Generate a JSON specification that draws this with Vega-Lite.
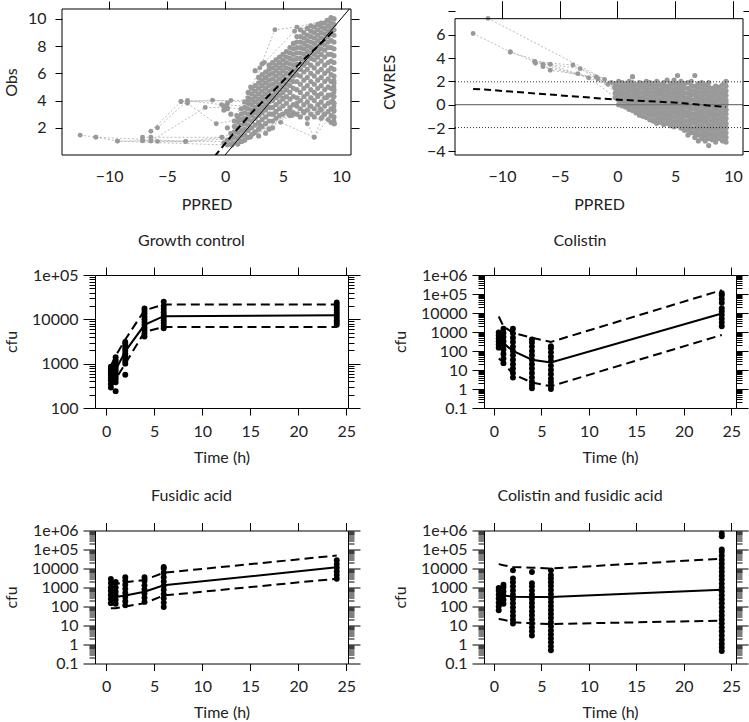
{
"$schema":"https://vega.github.io/schema/vega-lite/v6.json",
"padding":{"left":3,"top":0,"right":0,"bottom":0},
"config":{
 "font":"Lato",
 "view":{"stroke":"#000","strokeWidth":1},
 "axis":{"domain":false,"grid":false,"tickColor":"#000","tickWidth":1,"labelColor":"#222","titleColor":"#222","labelFontSize":16,"titleFontSize":16,"titleFontWeight":"normal","labelFlush":false,"labelOverlap":false,"labelBound":false},
 "title":{"fontSize":16,"fontWeight":"normal","color":"#222"}
},
"datasets":{
"c1":[
{"x":-0.1,"y":3.3},{"x":-0.1,"y":3.6},{"x":-0.1,"y":0.9},
{"x":0.2,"y":0.75},{"x":0.2,"y":1.1},{"x":0.2,"y":2.0},{"x":0.2,"y":3.4},{"x":0.2,"y":3.8},
{"x":0.5,"y":0.8},{"x":0.5,"y":1.2},{"x":0.5,"y":1.6},{"x":0.5,"y":3.0},
{"x":0.8,"y":0.9},{"x":0.8,"y":1.3},{"x":0.8,"y":1.7},{"x":0.8,"y":2.1},{"x":0.8,"y":2.5},
{"x":1.1,"y":0.8},{"x":1.1,"y":1.2},{"x":1.1,"y":1.6},{"x":1.1,"y":2.0},{"x":1.1,"y":2.4},{"x":1.1,"y":2.8},
{"x":1.4,"y":1.0},{"x":1.4,"y":1.4},{"x":1.4,"y":1.8},{"x":1.4,"y":2.2},{"x":1.4,"y":2.6},{"x":1.4,"y":3.0},{"x":1.4,"y":3.4},
{"x":1.7,"y":1.1},{"x":1.7,"y":1.5},{"x":1.7,"y":1.9},{"x":1.7,"y":2.3},{"x":1.7,"y":2.7},{"x":1.7,"y":3.1},{"x":1.7,"y":3.5},{"x":1.7,"y":3.9},
{"x":2.0,"y":1.3},{"x":2.0,"y":1.8},{"x":2.0,"y":2.2},{"x":2.0,"y":2.6},{"x":2.0,"y":3.0},{"x":2.0,"y":3.4},{"x":2.0,"y":3.8},{"x":2.0,"y":4.2},{"x":2.0,"y":4.6},
{"x":2.3,"y":1.5},{"x":2.3,"y":2.0},{"x":2.3,"y":2.5},{"x":2.3,"y":2.9},{"x":2.3,"y":3.3},{"x":2.3,"y":3.7},{"x":2.3,"y":4.1},{"x":2.3,"y":4.5},{"x":2.3,"y":4.9},
{"x":2.6,"y":1.7},{"x":2.6,"y":2.2},{"x":2.6,"y":2.7},{"x":2.6,"y":3.1},{"x":2.6,"y":3.5},{"x":2.6,"y":3.9},{"x":2.6,"y":4.3},{"x":2.6,"y":4.7},{"x":2.6,"y":5.1},{"x":2.6,"y":6.2},
{"x":2.9,"y":1.4},{"x":2.9,"y":1.9},{"x":2.9,"y":2.4},{"x":2.9,"y":2.9},{"x":2.9,"y":3.3},{"x":2.9,"y":3.7},{"x":2.9,"y":4.1},{"x":2.9,"y":4.5},{"x":2.9,"y":4.9},{"x":2.9,"y":5.3},{"x":2.9,"y":5.7},
{"x":3.2,"y":2.1},{"x":3.2,"y":2.6},{"x":3.2,"y":3.1},{"x":3.2,"y":3.5},{"x":3.2,"y":3.9},{"x":3.2,"y":4.3},{"x":3.2,"y":4.7},{"x":3.2,"y":5.1},{"x":3.2,"y":5.5},{"x":3.2,"y":5.9},{"x":3.2,"y":6.7},
{"x":3.5,"y":1.6},{"x":3.5,"y":2.3},{"x":3.5,"y":2.8},{"x":3.5,"y":3.3},{"x":3.5,"y":3.7},{"x":3.5,"y":4.1},{"x":3.5,"y":4.5},{"x":3.5,"y":4.9},{"x":3.5,"y":5.3},{"x":3.5,"y":5.7},{"x":3.5,"y":6.1},
{"x":3.8,"y":1.9},{"x":3.8,"y":2.5},{"x":3.8,"y":3.0},{"x":3.8,"y":3.5},{"x":3.8,"y":3.9},{"x":3.8,"y":4.3},{"x":3.8,"y":4.7},{"x":3.8,"y":5.1},{"x":3.8,"y":5.5},{"x":3.8,"y":5.9},{"x":3.8,"y":6.3},{"x":3.8,"y":6.6},
{"x":4.1,"y":2.0},{"x":4.1,"y":2.5},{"x":4.1,"y":3.0},{"x":4.1,"y":3.5},{"x":4.1,"y":4.0},{"x":4.1,"y":4.4},{"x":4.1,"y":4.8},{"x":4.1,"y":5.2},{"x":4.1,"y":5.6},{"x":4.1,"y":6.0},{"x":4.1,"y":6.4},{"x":4.1,"y":6.8},
{"x":4.4,"y":2.7},{"x":4.4,"y":3.2},{"x":4.4,"y":3.7},{"x":4.4,"y":4.2},{"x":4.4,"y":4.6},{"x":4.4,"y":5.0},{"x":4.4,"y":5.4},{"x":4.4,"y":5.8},{"x":4.4,"y":6.2},{"x":4.4,"y":6.6},{"x":4.4,"y":7.0},
{"x":4.7,"y":2.9},{"x":4.7,"y":3.4},{"x":4.7,"y":3.9},{"x":4.7,"y":4.4},{"x":4.7,"y":4.8},{"x":4.7,"y":5.2},{"x":4.7,"y":5.6},{"x":4.7,"y":6.0},{"x":4.7,"y":6.4},{"x":4.7,"y":6.8},{"x":4.7,"y":7.2},
{"x":5.0,"y":3.0},{"x":5.0,"y":3.6},{"x":5.0,"y":4.1},{"x":5.0,"y":4.6},{"x":5.0,"y":5.0},{"x":5.0,"y":5.4},{"x":5.0,"y":5.8},{"x":5.0,"y":6.2},{"x":5.0,"y":6.6},{"x":5.0,"y":7.0},{"x":5.0,"y":7.4},
{"x":5.3,"y":3.2},{"x":5.3,"y":3.8},{"x":5.3,"y":4.3},{"x":5.3,"y":4.8},{"x":5.3,"y":5.2},{"x":5.3,"y":5.6},{"x":5.3,"y":6.0},{"x":5.3,"y":6.4},{"x":5.3,"y":6.8},{"x":5.3,"y":7.2},{"x":5.3,"y":7.6},
{"x":5.6,"y":2.9},{"x":5.6,"y":3.5},{"x":5.6,"y":4.1},{"x":5.6,"y":4.6},{"x":5.6,"y":5.1},{"x":5.6,"y":5.5},{"x":5.6,"y":5.9},{"x":5.6,"y":6.3},{"x":5.6,"y":6.7},{"x":5.6,"y":7.1},{"x":5.6,"y":7.5},{"x":5.6,"y":7.9},
{"x":5.9,"y":3.1},{"x":5.9,"y":3.7},{"x":5.9,"y":4.3},{"x":5.9,"y":4.9},{"x":5.9,"y":5.4},{"x":5.9,"y":5.8},{"x":5.9,"y":6.2},{"x":5.9,"y":6.6},{"x":5.9,"y":7.0},{"x":5.9,"y":7.4},{"x":5.9,"y":7.8},{"x":5.9,"y":8.2},
{"x":6.2,"y":3.0},{"x":6.2,"y":3.6},{"x":6.2,"y":4.2},{"x":6.2,"y":4.8},{"x":6.2,"y":5.4},{"x":6.2,"y":5.9},{"x":6.2,"y":6.3},{"x":6.2,"y":6.7},{"x":6.2,"y":7.1},{"x":6.2,"y":7.5},{"x":6.2,"y":7.9},{"x":6.2,"y":8.3},{"x":6.2,"y":8.7},
{"x":6.5,"y":2.8},{"x":6.5,"y":3.4},{"x":6.5,"y":4.0},{"x":6.5,"y":4.6},{"x":6.5,"y":5.2},{"x":6.5,"y":5.8},{"x":6.5,"y":6.3},{"x":6.5,"y":6.7},{"x":6.5,"y":7.1},{"x":6.5,"y":7.5},{"x":6.5,"y":7.9},{"x":6.5,"y":8.3},{"x":6.5,"y":8.7},{"x":6.5,"y":9.2},
{"x":6.8,"y":3.1},{"x":6.8,"y":3.7},{"x":6.8,"y":4.3},{"x":6.8,"y":4.9},{"x":6.8,"y":5.5},{"x":6.8,"y":6.1},{"x":6.8,"y":6.6},{"x":6.8,"y":7.0},{"x":6.8,"y":7.4},{"x":6.8,"y":7.8},{"x":6.8,"y":8.2},{"x":6.8,"y":8.6},{"x":6.8,"y":9.0},
{"x":7.1,"y":2.7},{"x":7.1,"y":3.3},{"x":7.1,"y":3.9},{"x":7.1,"y":4.5},{"x":7.1,"y":5.1},{"x":7.1,"y":5.7},{"x":7.1,"y":6.3},{"x":7.1,"y":6.8},{"x":7.1,"y":7.2},{"x":7.1,"y":7.6},{"x":7.1,"y":8.0},{"x":7.1,"y":8.4},{"x":7.1,"y":8.8},{"x":7.1,"y":9.3},
{"x":7.4,"y":3.0},{"x":7.4,"y":3.6},{"x":7.4,"y":4.2},{"x":7.4,"y":4.8},{"x":7.4,"y":5.4},{"x":7.4,"y":6.0},{"x":7.4,"y":6.6},{"x":7.4,"y":7.1},{"x":7.4,"y":7.5},{"x":7.4,"y":7.9},{"x":7.4,"y":8.3},{"x":7.4,"y":8.7},{"x":7.4,"y":9.1},{"x":7.4,"y":9.5},
{"x":7.7,"y":2.8},{"x":7.7,"y":3.4},{"x":7.7,"y":4.0},{"x":7.7,"y":4.6},{"x":7.7,"y":5.2},{"x":7.7,"y":5.8},{"x":7.7,"y":6.4},{"x":7.7,"y":7.0},{"x":7.7,"y":7.4},{"x":7.7,"y":7.8},{"x":7.7,"y":8.2},{"x":7.7,"y":8.6},{"x":7.7,"y":9.0},{"x":7.7,"y":9.4},
{"x":8.0,"y":3.1},{"x":8.0,"y":3.7},{"x":8.0,"y":4.3},{"x":8.0,"y":4.9},{"x":8.0,"y":5.5},{"x":8.0,"y":6.1},{"x":8.0,"y":6.7},{"x":8.0,"y":7.2},{"x":8.0,"y":7.6},{"x":8.0,"y":8.0},{"x":8.0,"y":8.4},{"x":8.0,"y":8.8},{"x":8.0,"y":9.2},{"x":8.0,"y":9.6},
{"x":8.3,"y":2.7},{"x":8.3,"y":3.3},{"x":8.3,"y":3.9},{"x":8.3,"y":4.5},{"x":8.3,"y":5.1},{"x":8.3,"y":5.7},{"x":8.3,"y":6.3},{"x":8.3,"y":6.9},{"x":8.3,"y":7.4},{"x":8.3,"y":7.8},{"x":8.3,"y":8.2},{"x":8.3,"y":8.6},{"x":8.3,"y":9.0},{"x":8.3,"y":9.4},{"x":8.3,"y":9.7},
{"x":8.6,"y":3.0},{"x":8.6,"y":3.6},{"x":8.6,"y":4.2},{"x":8.6,"y":4.8},{"x":8.6,"y":5.4},{"x":8.6,"y":6.0},{"x":8.6,"y":6.6},{"x":8.6,"y":7.2},{"x":8.6,"y":7.7},{"x":8.6,"y":8.1},{"x":8.6,"y":8.5},{"x":8.6,"y":8.9},{"x":8.6,"y":9.3},{"x":8.6,"y":9.7},
{"x":8.9,"y":2.6},{"x":8.9,"y":3.2},{"x":8.9,"y":3.8},{"x":8.9,"y":4.4},{"x":8.9,"y":5.0},{"x":8.9,"y":5.6},{"x":8.9,"y":6.2},{"x":8.9,"y":6.8},{"x":8.9,"y":7.4},{"x":8.9,"y":7.9},{"x":8.9,"y":8.3},{"x":8.9,"y":8.7},{"x":8.9,"y":9.1},{"x":8.9,"y":9.5},{"x":8.9,"y":9.9},
{"x":9.15,"y":2.4},{"x":9.15,"y":2.9},{"x":9.15,"y":3.4},{"x":9.15,"y":3.9},{"x":9.15,"y":4.4},{"x":9.15,"y":4.9},{"x":9.15,"y":5.4},{"x":9.15,"y":5.9},{"x":9.15,"y":6.4},{"x":9.15,"y":6.9},{"x":9.15,"y":7.4},{"x":9.15,"y":7.9},{"x":9.15,"y":8.4},{"x":9.15,"y":8.9},{"x":9.15,"y":9.3},{"x":9.15,"y":9.7},{"x":9.15,"y":10.1},
{"x":9.4,"y":2.3},{"x":9.4,"y":2.8},{"x":9.4,"y":3.3},{"x":9.4,"y":3.8},{"x":9.4,"y":4.3},{"x":9.4,"y":4.8},{"x":9.4,"y":5.3},{"x":9.4,"y":5.8},{"x":9.4,"y":6.3},{"x":9.4,"y":6.8},{"x":9.4,"y":7.3},{"x":9.4,"y":7.8},{"x":9.4,"y":8.3},{"x":9.4,"y":8.8},{"x":9.4,"y":9.2},{"x":9.4,"y":9.6},{"x":9.4,"y":10.0}
],
"l1":[
{"i":"a","x":-12.5,"y":1.46},{"i":"a","x":-11.15,"y":1.31},{"i":"a","x":-9.28,"y":1.02},{"i":"a","x":0.6,"y":0.72},{"i":"a","x":2.5,"y":1.6},{"i":"a","x":5.8,"y":2.9},{"i":"a","x":9.4,"y":2.5},
{"i":"b","x":-11.15,"y":1.31},{"i":"b","x":-3.4,"y":1.0},{"i":"b","x":2.2,"y":1.3},{"i":"b","x":5.5,"y":3.0},{"i":"b","x":8.2,"y":3.4},{"i":"b","x":9.4,"y":3.6},
{"i":"c","x":-7.12,"y":1.05},{"i":"c","x":-5.83,"y":1.0},{"i":"c","x":1.5,"y":1.0},{"i":"c","x":4.8,"y":2.4},{"i":"c","x":7.7,"y":1.3},{"i":"c","x":9.4,"y":3.2},
{"i":"d","x":-7.12,"y":1.3},{"i":"d","x":-6.4,"y":1.3},{"i":"d","x":-0.27,"y":1.3},{"i":"d","x":3.0,"y":2.2},{"i":"d","x":6.8,"y":3.2},{"i":"d","x":9.3,"y":4.0},
{"i":"e","x":-6.4,"y":1.75},{"i":"e","x":-3.8,"y":3.93},{"i":"e","x":-1.08,"y":4.03},{"i":"e","x":2.0,"y":3.9},{"i":"e","x":5.0,"y":4.2},{"i":"e","x":8.0,"y":4.4},{"i":"e","x":9.4,"y":4.6},
{"i":"f","x":-5.83,"y":2.0},{"i":"f","x":-3.24,"y":4.0},{"i":"f","x":-0.3,"y":3.7},{"i":"f","x":3.5,"y":3.5},{"i":"f","x":6.2,"y":3.8},{"i":"f","x":9.4,"y":5.0},
{"i":"g","x":-6.4,"y":1.03},{"i":"g","x":-1.71,"y":3.49},{"i":"g","x":0.2,"y":3.5},{"i":"g","x":2.8,"y":3.2},{"i":"g","x":5.6,"y":3.3},{"i":"g","x":8.6,"y":3.0},{"i":"g","x":9.45,"y":2.3},
{"i":"h","x":-3.24,"y":3.8},{"i":"h","x":-0.76,"y":2.3},{"i":"h","x":1.2,"y":2.6},{"i":"h","x":4.2,"y":3.0},{"i":"h","x":7.3,"y":3.6},{"i":"h","x":9.4,"y":3.8},
{"i":"i","x":3.0,"y":6.4},{"i":"i","x":4.3,"y":9.2},{"i":"i","x":6.2,"y":9.4},{"i":"i","x":8.8,"y":9.9},
{"i":"j","x":1.0,"y":2.9},{"i":"j","x":2.2,"y":5.0},{"i":"j","x":3.4,"y":6.8},{"i":"j","x":6.0,"y":9.1},{"i":"j","x":9.4,"y":10.0},
{"i":"k","x":7.1,"y":2.3},{"i":"k","x":7.7,"y":1.3},{"i":"k","x":8.4,"y":2.8},{"i":"k","x":9.4,"y":5.5},
{"i":"l","x":-3.8,"y":3.93},{"i":"l","x":0.5,"y":4.0},{"i":"l","x":4.0,"y":4.1},{"i":"l","x":8.8,"y":4.2},
{"i":"m","x":-9.28,"y":1.02},{"i":"m","x":-7.12,"y":1.05},{"i":"m","x":-3.4,"y":1.0},{"i":"m","x":-0.27,"y":1.3}
],
"r1":[
{"k":"id","x":-1,"y":-1},{"k":"id","x":11,"y":11},
{"k":"lo","x":-0.9,"y":-0.1},{"k":"lo","x":0.65,"y":1.5},{"k":"lo","x":2.4,"y":3.2},{"k":"lo","x":4.4,"y":4.9},{"k":"lo","x":6.4,"y":6.7},{"k":"lo","x":8.7,"y":8.55},{"k":"lo","x":9.45,"y":9.2}
],
"b1":[{"x1":-14.07,"x2":10.87,"y1":0,"y2":10.73}],
"c2":[
{"x":-0.2,"y":0.6},{"x":-0.2,"y":1.0},{"x":-0.2,"y":1.4},{"x":-0.2,"y":1.8},
{"x":0.1,"y":0.0},{"x":0.1,"y":0.4},{"x":0.1,"y":0.8},{"x":0.1,"y":1.2},{"x":0.1,"y":1.6},{"x":0.1,"y":2.0},
{"x":0.4,"y":-0.1},{"x":0.4,"y":0.3},{"x":0.4,"y":0.7},{"x":0.4,"y":1.1},{"x":0.4,"y":1.5},{"x":0.4,"y":1.9},
{"x":0.7,"y":-0.2},{"x":0.7,"y":0.2},{"x":0.7,"y":0.6},{"x":0.7,"y":1.0},{"x":0.7,"y":1.4},{"x":0.7,"y":1.8},
{"x":1.0,"y":-0.4},{"x":1.0,"y":0.0},{"x":1.0,"y":0.4},{"x":1.0,"y":0.8},{"x":1.0,"y":1.2},{"x":1.0,"y":1.6},{"x":1.0,"y":2.0},
{"x":1.3,"y":-0.5},{"x":1.3,"y":-0.1},{"x":1.3,"y":0.3},{"x":1.3,"y":0.7},{"x":1.3,"y":1.1},{"x":1.3,"y":1.5},{"x":1.3,"y":1.9},{"x":1.3,"y":2.4},
{"x":1.6,"y":-0.7},{"x":1.6,"y":-0.3},{"x":1.6,"y":0.1},{"x":1.6,"y":0.5},{"x":1.6,"y":0.9},{"x":1.6,"y":1.3},{"x":1.6,"y":1.7},
{"x":1.9,"y":-0.9},{"x":1.9,"y":-0.5},{"x":1.9,"y":-0.1},{"x":1.9,"y":0.3},{"x":1.9,"y":0.7},{"x":1.9,"y":1.1},{"x":1.9,"y":1.5},{"x":1.9,"y":1.9},
{"x":2.2,"y":-1.0},{"x":2.2,"y":-0.6},{"x":2.2,"y":-0.2},{"x":2.2,"y":0.2},{"x":2.2,"y":0.6},{"x":2.2,"y":1.0},{"x":2.2,"y":1.4},{"x":2.2,"y":1.8},
{"x":2.5,"y":-1.1},{"x":2.5,"y":-0.7},{"x":2.5,"y":-0.3},{"x":2.5,"y":0.1},{"x":2.5,"y":0.5},{"x":2.5,"y":0.9},{"x":2.5,"y":1.3},{"x":2.5,"y":1.7},{"x":2.5,"y":2.0},
{"x":2.8,"y":-1.3},{"x":2.8,"y":-0.9},{"x":2.8,"y":-0.5},{"x":2.8,"y":-0.1},{"x":2.8,"y":0.3},{"x":2.8,"y":0.7},{"x":2.8,"y":1.1},{"x":2.8,"y":1.5},{"x":2.8,"y":1.9},
{"x":3.1,"y":-1.4},{"x":3.1,"y":-1.0},{"x":3.1,"y":-0.6},{"x":3.1,"y":-0.2},{"x":3.1,"y":0.2},{"x":3.1,"y":0.6},{"x":3.1,"y":1.0},{"x":3.1,"y":1.4},{"x":3.1,"y":1.8},
{"x":3.4,"y":-1.6},{"x":3.4,"y":-1.2},{"x":3.4,"y":-0.8},{"x":3.4,"y":-0.4},{"x":3.4,"y":0.0},{"x":3.4,"y":0.4},{"x":3.4,"y":0.8},{"x":3.4,"y":1.2},{"x":3.4,"y":1.6},{"x":3.4,"y":2.0},
{"x":3.7,"y":-1.5},{"x":3.7,"y":-1.1},{"x":3.7,"y":-0.7},{"x":3.7,"y":-0.3},{"x":3.7,"y":0.1},{"x":3.7,"y":0.5},{"x":3.7,"y":0.9},{"x":3.7,"y":1.3},{"x":3.7,"y":1.7},
{"x":4.0,"y":-1.7},{"x":4.0,"y":-1.3},{"x":4.0,"y":-0.9},{"x":4.0,"y":-0.5},{"x":4.0,"y":-0.1},{"x":4.0,"y":0.3},{"x":4.0,"y":0.7},{"x":4.0,"y":1.1},{"x":4.0,"y":1.5},{"x":4.0,"y":1.9},
{"x":4.3,"y":-1.6},{"x":4.3,"y":-1.2},{"x":4.3,"y":-0.8},{"x":4.3,"y":-0.4},{"x":4.3,"y":0.0},{"x":4.3,"y":0.4},{"x":4.3,"y":0.8},{"x":4.3,"y":1.2},{"x":4.3,"y":1.6},{"x":4.3,"y":2.1},
{"x":4.6,"y":-1.8},{"x":4.6,"y":-1.4},{"x":4.6,"y":-1.0},{"x":4.6,"y":-0.6},{"x":4.6,"y":-0.2},{"x":4.6,"y":0.2},{"x":4.6,"y":0.6},{"x":4.6,"y":1.0},{"x":4.6,"y":1.4},{"x":4.6,"y":1.8},
{"x":4.9,"y":-1.9},{"x":4.9,"y":-1.5},{"x":4.9,"y":-1.1},{"x":4.9,"y":-0.7},{"x":4.9,"y":-0.3},{"x":4.9,"y":0.1},{"x":4.9,"y":0.5},{"x":4.9,"y":0.9},{"x":4.9,"y":1.3},{"x":4.9,"y":1.7},{"x":4.9,"y":2.1},
{"x":5.2,"y":-1.8},{"x":5.2,"y":-1.4},{"x":5.2,"y":-1.0},{"x":5.2,"y":-0.6},{"x":5.2,"y":-0.2},{"x":5.2,"y":0.2},{"x":5.2,"y":0.6},{"x":5.2,"y":1.0},{"x":5.2,"y":1.4},{"x":5.2,"y":1.8},{"x":5.2,"y":2.5},
{"x":5.5,"y":-2.0},{"x":5.5,"y":-1.6},{"x":5.5,"y":-1.2},{"x":5.5,"y":-0.8},{"x":5.5,"y":-0.4},{"x":5.5,"y":0.0},{"x":5.5,"y":0.4},{"x":5.5,"y":0.8},{"x":5.5,"y":1.2},{"x":5.5,"y":1.6},{"x":5.5,"y":2.0},
{"x":5.8,"y":-2.2},{"x":5.8,"y":-1.8},{"x":5.8,"y":-1.4},{"x":5.8,"y":-1.0},{"x":5.8,"y":-0.6},{"x":5.8,"y":-0.2},{"x":5.8,"y":0.2},{"x":5.8,"y":0.6},{"x":5.8,"y":1.0},{"x":5.8,"y":1.4},{"x":5.8,"y":1.8},
{"x":6.1,"y":-2.6},{"x":6.1,"y":-2.2},{"x":6.1,"y":-1.8},{"x":6.1,"y":-1.4},{"x":6.1,"y":-1.0},{"x":6.1,"y":-0.6},{"x":6.1,"y":-0.2},{"x":6.1,"y":0.2},{"x":6.1,"y":0.6},{"x":6.1,"y":1.0},{"x":6.1,"y":1.4},{"x":6.1,"y":1.9},
{"x":6.4,"y":-2.4},{"x":6.4,"y":-2.0},{"x":6.4,"y":-1.6},{"x":6.4,"y":-1.2},{"x":6.4,"y":-0.8},{"x":6.4,"y":-0.4},{"x":6.4,"y":0.0},{"x":6.4,"y":0.4},{"x":6.4,"y":0.8},{"x":6.4,"y":1.2},{"x":6.4,"y":1.6},{"x":6.4,"y":2.0},
{"x":6.7,"y":-2.8},{"x":6.7,"y":-2.4},{"x":6.7,"y":-2.0},{"x":6.7,"y":-1.6},{"x":6.7,"y":-1.2},{"x":6.7,"y":-0.8},{"x":6.7,"y":-0.4},{"x":6.7,"y":0.0},{"x":6.7,"y":0.4},{"x":6.7,"y":0.8},{"x":6.7,"y":1.2},{"x":6.7,"y":1.6},{"x":6.7,"y":2.5},
{"x":7.0,"y":-3.1},{"x":7.0,"y":-2.6},{"x":7.0,"y":-2.2},{"x":7.0,"y":-1.8},{"x":7.0,"y":-1.4},{"x":7.0,"y":-1.0},{"x":7.0,"y":-0.6},{"x":7.0,"y":-0.2},{"x":7.0,"y":0.2},{"x":7.0,"y":0.6},{"x":7.0,"y":1.0},{"x":7.0,"y":1.4},{"x":7.0,"y":1.8},
{"x":7.3,"y":-2.9},{"x":7.3,"y":-2.5},{"x":7.3,"y":-2.1},{"x":7.3,"y":-1.7},{"x":7.3,"y":-1.3},{"x":7.3,"y":-0.9},{"x":7.3,"y":-0.5},{"x":7.3,"y":-0.1},{"x":7.3,"y":0.3},{"x":7.3,"y":0.7},{"x":7.3,"y":1.1},{"x":7.3,"y":1.5},{"x":7.3,"y":1.9},
{"x":7.6,"y":-3.1},{"x":7.6,"y":-2.7},{"x":7.6,"y":-2.3},{"x":7.6,"y":-1.9},{"x":7.6,"y":-1.5},{"x":7.6,"y":-1.1},{"x":7.6,"y":-0.7},{"x":7.6,"y":-0.3},{"x":7.6,"y":0.1},{"x":7.6,"y":0.5},{"x":7.6,"y":0.9},{"x":7.6,"y":1.3},{"x":7.6,"y":1.7},
{"x":7.9,"y":-3.5},{"x":7.9,"y":-2.9},{"x":7.9,"y":-2.5},{"x":7.9,"y":-2.1},{"x":7.9,"y":-1.7},{"x":7.9,"y":-1.3},{"x":7.9,"y":-0.9},{"x":7.9,"y":-0.5},{"x":7.9,"y":-0.1},{"x":7.9,"y":0.3},{"x":7.9,"y":0.7},{"x":7.9,"y":1.1},{"x":7.9,"y":1.5},{"x":7.9,"y":1.9},
{"x":8.2,"y":-3.0},{"x":8.2,"y":-2.6},{"x":8.2,"y":-2.2},{"x":8.2,"y":-1.8},{"x":8.2,"y":-1.4},{"x":8.2,"y":-1.0},{"x":8.2,"y":-0.6},{"x":8.2,"y":-0.2},{"x":8.2,"y":0.2},{"x":8.2,"y":0.6},{"x":8.2,"y":1.0},{"x":8.2,"y":1.4},
{"x":8.5,"y":-3.2},{"x":8.5,"y":-2.8},{"x":8.5,"y":-2.4},{"x":8.5,"y":-2.0},{"x":8.5,"y":-1.6},{"x":8.5,"y":-1.2},{"x":8.5,"y":-0.8},{"x":8.5,"y":-0.4},{"x":8.5,"y":0.0},{"x":8.5,"y":0.4},{"x":8.5,"y":0.8},{"x":8.5,"y":1.2},{"x":8.5,"y":1.6},
{"x":8.8,"y":-2.9},{"x":8.8,"y":-2.5},{"x":8.8,"y":-2.1},{"x":8.8,"y":-1.7},{"x":8.8,"y":-1.3},{"x":8.8,"y":-0.9},{"x":8.8,"y":-0.5},{"x":8.8,"y":-0.1},{"x":8.8,"y":0.3},{"x":8.8,"y":0.7},{"x":8.8,"y":1.1},{"x":8.8,"y":1.5},
{"x":9.1,"y":-3.1},{"x":9.1,"y":-2.7},{"x":9.1,"y":-2.3},{"x":9.1,"y":-1.9},{"x":9.1,"y":-1.5},{"x":9.1,"y":-1.1},{"x":9.1,"y":-0.7},{"x":9.1,"y":-0.3},{"x":9.1,"y":0.1},{"x":9.1,"y":0.5},{"x":9.1,"y":0.9},{"x":9.1,"y":1.3},{"x":9.1,"y":1.7},
{"x":9.4,"y":-3.2},{"x":9.4,"y":-2.8},{"x":9.4,"y":-2.4},{"x":9.4,"y":-2.0},{"x":9.4,"y":-1.6},{"x":9.4,"y":-1.2},{"x":9.4,"y":-0.8},{"x":9.4,"y":-0.4},{"x":9.4,"y":0.0},{"x":9.4,"y":0.4},{"x":9.4,"y":0.8},{"x":9.4,"y":1.2},{"x":9.4,"y":1.6},{"x":9.4,"y":2.0}
],
"l2":[
{"i":"q1","x":-11.21,"y":7.4},{"i":"q1","x":-0.54,"y":1.9},{"i":"q1","x":2.0,"y":0.5},{"i":"q1","x":5.0,"y":-0.5},{"i":"q1","x":9.2,"y":-1.0},
{"i":"q2","x":-12.5,"y":6.1},{"i":"q2","x":-9.28,"y":4.52},{"i":"q2","x":-3.43,"y":2.66},{"i":"q2","x":-0.25,"y":1.47},{"i":"q2","x":3.0,"y":0.3},{"i":"q2","x":7.0,"y":-1.2},{"i":"q2","x":9.4,"y":-0.5},
{"i":"q3","x":-7.17,"y":3.69},{"i":"q3","x":-3.86,"y":3.4},{"i":"q3","x":-1.12,"y":2.17},{"i":"q3","x":1.0,"y":0.8},{"i":"q3","x":4.5,"y":0.2},{"i":"q3","x":9.3,"y":0.6},
{"i":"q4","x":-7.1,"y":3.55},{"i":"q4","x":-5.82,"y":3.46},{"i":"q4","x":-3.23,"y":3.09},{"i":"q4","x":-0.83,"y":1.75},{"i":"q4","x":2.5,"y":1.0},{"i":"q4","x":6.0,"y":-0.8},{"i":"q4","x":9.4,"y":-1.8},
{"i":"q5","x":-6.45,"y":3.46},{"i":"q5","x":-5.82,"y":2.95},{"i":"q5","x":-1.84,"y":2.37},{"i":"q5","x":0.3,"y":1.0},{"i":"q5","x":3.5,"y":-0.5},{"i":"q5","x":8.0,"y":-2.0},
{"i":"q6","x":-6.45,"y":3.26},{"i":"q6","x":-1.7,"y":2.2},{"i":"q6","x":0.5,"y":0.6},{"i":"q6","x":5.0,"y":0.8},{"i":"q6","x":9.0,"y":1.2},
{"i":"q7","x":-9.28,"y":4.52},{"i":"q7","x":-7.17,"y":3.69},{"i":"q7","x":-2.5,"y":2.3},{"i":"q7","x":0.0,"y":0.5},{"i":"q7","x":4.0,"y":0.0},{"i":"q7","x":9.4,"y":0.2}
],
"r2":[
{"k":"lo","x":-12.5,"y":1.35},{"k":"lo","x":-11.8,"y":1.32},{"k":"lo","x":-2.3,"y":0.6},{"k":"lo","x":-0.5,"y":0.46},{"k":"lo","x":2.3,"y":0.32},{"k":"lo","x":5.2,"y":0.17},{"k":"lo","x":9.4,"y":-0.2},
{"k":"z","x":-14.07,"y":0},{"k":"z","x":10.87,"y":0},
{"k":"u","x":-14.07,"y":1.96},{"k":"u","x":10.87,"y":1.96},
{"k":"d","x":-14.07,"y":-1.96},{"k":"d","x":10.87,"y":-1.96}
],
"b2":[{"x1":-14.07,"x2":10.87,"y1":-4.31,"y2":7.37}],
"v":[
{"p":"gc","t":0.5,"v":290},{"p":"gc","t":0.5,"v":350},{"p":"gc","t":0.5,"v":420},{"p":"gc","t":0.5,"v":480},{"p":"gc","t":0.5,"v":540},{"p":"gc","t":0.5,"v":600},{"p":"gc","t":0.5,"v":680},{"p":"gc","t":0.5,"v":760},{"p":"gc","t":0.5,"v":850},
{"p":"gc","t":1,"v":240},{"p":"gc","t":1,"v":380},{"p":"gc","t":1,"v":450},{"p":"gc","t":1,"v":520},{"p":"gc","t":1,"v":600},{"p":"gc","t":1,"v":700},{"p":"gc","t":1,"v":800},{"p":"gc","t":1,"v":920},{"p":"gc","t":1,"v":1050},{"p":"gc","t":1,"v":1200},{"p":"gc","t":1,"v":1400},
{"p":"gc","t":2,"v":560},{"p":"gc","t":2,"v":1000},{"p":"gc","t":2,"v":1150},{"p":"gc","t":2,"v":1300},{"p":"gc","t":2,"v":1500},{"p":"gc","t":2,"v":1700},{"p":"gc","t":2,"v":1950},{"p":"gc","t":2,"v":2200},{"p":"gc","t":2,"v":2500},{"p":"gc","t":2,"v":2800},{"p":"gc","t":2,"v":3100},
{"p":"gc","t":4,"v":4100},{"p":"gc","t":4,"v":4800},{"p":"gc","t":4,"v":5600},{"p":"gc","t":4,"v":6500},{"p":"gc","t":4,"v":7500},{"p":"gc","t":4,"v":8700},{"p":"gc","t":4,"v":10000},{"p":"gc","t":4,"v":11500},{"p":"gc","t":4,"v":13500},{"p":"gc","t":4,"v":15500},{"p":"gc","t":4,"v":17500},
{"p":"gc","t":6,"v":6300},{"p":"gc","t":6,"v":7200},{"p":"gc","t":6,"v":8300},{"p":"gc","t":6,"v":9500},{"p":"gc","t":6,"v":11000},{"p":"gc","t":6,"v":12500},{"p":"gc","t":6,"v":14500},{"p":"gc","t":6,"v":17000},{"p":"gc","t":6,"v":20000},{"p":"gc","t":6,"v":25000},
{"p":"gc","t":24,"v":7500},{"p":"gc","t":24,"v":8500},{"p":"gc","t":24,"v":9500},{"p":"gc","t":24,"v":11000},{"p":"gc","t":24,"v":12500},{"p":"gc","t":24,"v":14000},{"p":"gc","t":24,"v":16000},{"p":"gc","t":24,"v":18500},{"p":"gc","t":24,"v":21000},{"p":"gc","t":24,"v":24000},
{"p":"co","t":0.5,"v":150},{"p":"co","t":0.5,"v":220},{"p":"co","t":0.5,"v":320},{"p":"co","t":0.5,"v":450},{"p":"co","t":0.5,"v":650},{"p":"co","t":0.5,"v":950},
{"p":"co","t":1,"v":23},{"p":"co","t":1,"v":40},{"p":"co","t":1,"v":70},{"p":"co","t":1,"v":120},{"p":"co","t":1,"v":200},{"p":"co","t":1,"v":330},{"p":"co","t":1,"v":550},{"p":"co","t":1,"v":900},{"p":"co","t":1,"v":1500},
{"p":"co","t":2,"v":4},{"p":"co","t":2,"v":7},{"p":"co","t":2,"v":12},{"p":"co","t":2,"v":20},{"p":"co","t":2,"v":35},{"p":"co","t":2,"v":60},{"p":"co","t":2,"v":100},{"p":"co","t":2,"v":170},{"p":"co","t":2,"v":300},{"p":"co","t":2,"v":500},{"p":"co","t":2,"v":850},{"p":"co","t":2,"v":1500},
{"p":"co","t":4,"v":1.1},{"p":"co","t":4,"v":1.6},{"p":"co","t":4,"v":2.4},{"p":"co","t":4,"v":4},{"p":"co","t":4,"v":7},{"p":"co","t":4,"v":12},{"p":"co","t":4,"v":20},{"p":"co","t":4,"v":35},{"p":"co","t":4,"v":60},{"p":"co","t":4,"v":100},{"p":"co","t":4,"v":170},{"p":"co","t":4,"v":280},{"p":"co","t":4,"v":400},
{"p":"co","t":6,"v":1.0},{"p":"co","t":6,"v":1.5},{"p":"co","t":6,"v":2.3},{"p":"co","t":6,"v":3.5},{"p":"co","t":6,"v":6},{"p":"co","t":6,"v":10},{"p":"co","t":6,"v":17},{"p":"co","t":6,"v":30},{"p":"co","t":6,"v":50},{"p":"co","t":6,"v":85},{"p":"co","t":6,"v":140},{"p":"co","t":6,"v":180},
{"p":"co","t":24,"v":2000},{"p":"co","t":24,"v":3200},{"p":"co","t":24,"v":5000},{"p":"co","t":24,"v":8000},{"p":"co","t":24,"v":12000},{"p":"co","t":24,"v":18000},{"p":"co","t":24,"v":35000},{"p":"co","t":24,"v":55000},{"p":"co","t":24,"v":85000},{"p":"co","t":24,"v":110000},
{"p":"fa","t":0.5,"v":150},{"p":"fa","t":0.5,"v":250},{"p":"fa","t":0.5,"v":400},{"p":"fa","t":0.5,"v":650},{"p":"fa","t":0.5,"v":1000},{"p":"fa","t":0.5,"v":1700},{"p":"fa","t":0.5,"v":2800},
{"p":"fa","t":1,"v":140},{"p":"fa","t":1,"v":230},{"p":"fa","t":1,"v":380},{"p":"fa","t":1,"v":600},{"p":"fa","t":1,"v":1000},{"p":"fa","t":1,"v":1950},
{"p":"fa","t":2,"v":115},{"p":"fa","t":2,"v":190},{"p":"fa","t":2,"v":320},{"p":"fa","t":2,"v":520},{"p":"fa","t":2,"v":850},{"p":"fa","t":2,"v":1400},{"p":"fa","t":2,"v":2300},{"p":"fa","t":2,"v":3500},
{"p":"fa","t":4,"v":175},{"p":"fa","t":4,"v":290},{"p":"fa","t":4,"v":480},{"p":"fa","t":4,"v":800},{"p":"fa","t":4,"v":1300},{"p":"fa","t":4,"v":2200},{"p":"fa","t":4,"v":3500},
{"p":"fa","t":6,"v":95},{"p":"fa","t":6,"v":160},{"p":"fa","t":6,"v":270},{"p":"fa","t":6,"v":450},{"p":"fa","t":6,"v":750},{"p":"fa","t":6,"v":1250},{"p":"fa","t":6,"v":2100},{"p":"fa","t":6,"v":3500},{"p":"fa","t":6,"v":6000},{"p":"fa","t":6,"v":10000},{"p":"fa","t":6,"v":12000},
{"p":"fa","t":24,"v":2900},{"p":"fa","t":24,"v":4500},{"p":"fa","t":24,"v":7000},{"p":"fa","t":24,"v":11000},{"p":"fa","t":24,"v":17000},{"p":"fa","t":24,"v":27000},
{"p":"cf","t":0.5,"v":63},{"p":"cf","t":0.5,"v":100},{"p":"cf","t":0.5,"v":160},{"p":"cf","t":0.5,"v":260},{"p":"cf","t":0.5,"v":420},{"p":"cf","t":0.5,"v":680},{"p":"cf","t":0.5,"v":950},
{"p":"cf","t":1,"v":140},{"p":"cf","t":1,"v":230},{"p":"cf","t":1,"v":380},{"p":"cf","t":1,"v":620},{"p":"cf","t":1,"v":1000},{"p":"cf","t":1,"v":1400},
{"p":"cf","t":2,"v":12.7},{"p":"cf","t":2,"v":20},{"p":"cf","t":2,"v":33},{"p":"cf","t":2,"v":55},{"p":"cf","t":2,"v":90},{"p":"cf","t":2,"v":150},{"p":"cf","t":2,"v":250},{"p":"cf","t":2,"v":420},{"p":"cf","t":2,"v":700},{"p":"cf","t":2,"v":1150},{"p":"cf","t":2,"v":1900},{"p":"cf","t":2,"v":3000},{"p":"cf","t":2,"v":8000},
{"p":"cf","t":4,"v":3},{"p":"cf","t":4,"v":5},{"p":"cf","t":4,"v":8},{"p":"cf","t":4,"v":13},{"p":"cf","t":4,"v":21},{"p":"cf","t":4,"v":35},{"p":"cf","t":4,"v":57},{"p":"cf","t":4,"v":95},{"p":"cf","t":4,"v":155},{"p":"cf","t":4,"v":250},{"p":"cf","t":4,"v":420},{"p":"cf","t":4,"v":700},{"p":"cf","t":4,"v":1150},{"p":"cf","t":4,"v":1700},{"p":"cf","t":4,"v":6500},
{"p":"cf","t":6,"v":0.5},{"p":"cf","t":6,"v":0.8},{"p":"cf","t":6,"v":1.3},{"p":"cf","t":6,"v":2.1},{"p":"cf","t":6,"v":3.4},{"p":"cf","t":6,"v":5.5},{"p":"cf","t":6,"v":9},{"p":"cf","t":6,"v":15},{"p":"cf","t":6,"v":25},{"p":"cf","t":6,"v":40},{"p":"cf","t":6,"v":65},{"p":"cf","t":6,"v":105},{"p":"cf","t":6,"v":170},{"p":"cf","t":6,"v":280},{"p":"cf","t":6,"v":450},{"p":"cf","t":6,"v":730},{"p":"cf","t":6,"v":1200},{"p":"cf","t":6,"v":1900},{"p":"cf","t":6,"v":3000},{"p":"cf","t":6,"v":4500},{"p":"cf","t":6,"v":8000},
{"p":"cf","t":24,"v":0.45},{"p":"cf","t":24,"v":0.7},{"p":"cf","t":24,"v":1.1},{"p":"cf","t":24,"v":1.8},{"p":"cf","t":24,"v":3},{"p":"cf","t":24,"v":5},{"p":"cf","t":24,"v":8},{"p":"cf","t":24,"v":13},{"p":"cf","t":24,"v":21},{"p":"cf","t":24,"v":34},{"p":"cf","t":24,"v":55},{"p":"cf","t":24,"v":90},{"p":"cf","t":24,"v":150},{"p":"cf","t":24,"v":240},{"p":"cf","t":24,"v":390},{"p":"cf","t":24,"v":630},{"p":"cf","t":24,"v":1000},{"p":"cf","t":24,"v":1600},{"p":"cf","t":24,"v":2600},{"p":"cf","t":24,"v":4200},{"p":"cf","t":24,"v":6800},{"p":"cf","t":24,"v":11000},{"p":"cf","t":24,"v":18000},{"p":"cf","t":24,"v":29000},{"p":"cf","t":24,"v":47000},{"p":"cf","t":24,"v":76000},{"p":"cf","t":24,"v":100000},{"p":"cf","t":24,"v":500000},{"p":"cf","t":24,"v":700000}
],
"q":[
{"p":"gc","s":"m","t":0.5,"v":500},{"p":"gc","s":"m","t":1,"v":720},{"p":"gc","s":"m","t":2,"v":1900},{"p":"gc","s":"m","t":4,"v":7500},{"p":"gc","s":"m","t":6,"v":11800},{"p":"gc","s":"m","t":24,"v":12300},
{"p":"gc","s":"h","t":0.5,"v":900},{"p":"gc","s":"h","t":1,"v":1500},{"p":"gc","s":"h","t":2,"v":3500},{"p":"gc","s":"h","t":4,"v":16000},{"p":"gc","s":"h","t":6,"v":21500},{"p":"gc","s":"h","t":24,"v":21500},
{"p":"gc","s":"l","t":0.5,"v":300},{"p":"gc","s":"l","t":1,"v":450},{"p":"gc","s":"l","t":2,"v":1000},{"p":"gc","s":"l","t":4,"v":5200},{"p":"gc","s":"l","t":6,"v":6700},{"p":"gc","s":"l","t":24,"v":6700},
{"p":"co","s":"m","t":0.5,"v":350},{"p":"co","s":"m","t":1,"v":250},{"p":"co","s":"m","t":2,"v":100},{"p":"co","s":"m","t":4,"v":35},{"p":"co","s":"m","t":6,"v":25},{"p":"co","s":"m","t":24,"v":9500},
{"p":"co","s":"h","t":0.5,"v":6500},{"p":"co","s":"h","t":1,"v":2000},{"p":"co","s":"h","t":2,"v":900},{"p":"co","s":"h","t":4,"v":500},{"p":"co","s":"h","t":6,"v":300},{"p":"co","s":"h","t":24,"v":160000},
{"p":"co","s":"l","t":0.5,"v":40},{"p":"co","s":"l","t":1,"v":25},{"p":"co","s":"l","t":2,"v":6},{"p":"co","s":"l","t":4,"v":2.2},{"p":"co","s":"l","t":6,"v":1.4},{"p":"co","s":"l","t":24,"v":700},
{"p":"fa","s":"m","t":0.5,"v":350},{"p":"fa","s":"m","t":1,"v":320},{"p":"fa","s":"m","t":2,"v":380},{"p":"fa","s":"m","t":4,"v":600},{"p":"fa","s":"m","t":6,"v":1300},{"p":"fa","s":"m","t":24,"v":11500},
{"p":"fa","s":"h","t":0.5,"v":1500},{"p":"fa","s":"h","t":1,"v":1500},{"p":"fa","s":"h","t":2,"v":1900},{"p":"fa","s":"h","t":4,"v":2500},{"p":"fa","s":"h","t":6,"v":6000},{"p":"fa","s":"h","t":24,"v":48000},
{"p":"fa","s":"l","t":0.5,"v":80},{"p":"fa","s":"l","t":1,"v":80},{"p":"fa","s":"l","t":2,"v":100},{"p":"fa","s":"l","t":4,"v":150},{"p":"fa","s":"l","t":6,"v":380},{"p":"fa","s":"l","t":24,"v":2900},
{"p":"cf","s":"m","t":0.5,"v":380},{"p":"cf","s":"m","t":1,"v":380},{"p":"cf","s":"m","t":2,"v":330},{"p":"cf","s":"m","t":4,"v":320},{"p":"cf","s":"m","t":6,"v":320},{"p":"cf","s":"m","t":24,"v":750},
{"p":"cf","s":"h","t":0.5,"v":17000},{"p":"cf","s":"h","t":1,"v":15000},{"p":"cf","s":"h","t":2,"v":12000},{"p":"cf","s":"h","t":4,"v":11000},{"p":"cf","s":"h","t":6,"v":10000},{"p":"cf","s":"h","t":24,"v":33000},
{"p":"cf","s":"l","t":0.5,"v":22},{"p":"cf","s":"l","t":1,"v":20},{"p":"cf","s":"l","t":2,"v":15},{"p":"cf","s":"l","t":4,"v":13},{"p":"cf","s":"l","t":6,"v":12},{"p":"cf","s":"l","t":24,"v":18}
]
},
"columns":1,
"align":"none",
"spacing":20,
"concat":[
{"hconcat":[
 {"width":256,"height":146,
  "view":{"stroke":null},
  "layer":[
   {"data":{"name":"l1"},"mark":{"type":"line","color":"#aaaaaa","strokeWidth":0.8,"strokeDash":[2,2]},
    "encoding":{
     "x":{"field":"x","type":"quantitative","scale":{"domain":[-14.07,10.87],"range":[-33,256],"nice":false,"zero":false},"axis":{"orient":"top","values":[-10,-5,0,5,10],"tickSize":8,"labels":false,"title":null}},
     "y":{"field":"y","type":"quantitative","scale":{"domain":[0,10.73],"nice":false,"zero":false},"axis":{"orient":"right","values":[2,4,6,8,10],"tickSize":8,"labels":false,"title":null}},
     "detail":{"field":"i"}}},
   {"data":{"name":"c1"},"mark":{"type":"circle","color":"#999999","size":27,"opacity":1},
    "encoding":{
     "x":{"field":"x","type":"quantitative","scale":{"domain":[-14.07,10.87],"range":[-33,256],"nice":false,"zero":false},"axis":{"orient":"bottom","values":[-10,-5,0,5,10],"tickSize":0,"labelPadding":13,"title":"PPRED","titlePadding":12}},
     "y":{"field":"y","type":"quantitative","scale":{"domain":[0,10.73],"nice":false,"zero":false},"axis":{"orient":"left","offset":33,"values":[2,4,6,8,10],"tickSize":7,"labelPadding":9,"title":"Obs","titlePadding":8}}}},
   {"data":{"name":"l1"},"mark":{"type":"circle","color":"#999999","size":24,"opacity":1},
    "encoding":{
     "x":{"field":"x","type":"quantitative","scale":{"domain":[-14.07,10.87],"range":[-33,256],"nice":false,"zero":false},"axis":null},
     "y":{"field":"y","type":"quantitative","scale":{"domain":[0,10.73],"nice":false,"zero":false},"axis":null}}},
   {"data":{"name":"r1"},"transform":[{"filter":"datum.k=='id'"}],"mark":{"type":"line","color":"#000","strokeWidth":1,"clip":true},
    "encoding":{
     "x":{"field":"x","type":"quantitative","scale":{"domain":[-14.07,10.87],"range":[-33,256],"nice":false,"zero":false},"axis":null},
     "y":{"field":"y","type":"quantitative","scale":{"domain":[0,10.73],"nice":false,"zero":false},"axis":null}}},
   {"data":{"name":"r1"},"transform":[{"filter":"datum.k=='lo'"}],"mark":{"type":"line","color":"#000","strokeWidth":2,"strokeDash":[7,4],"clip":true},
    "encoding":{
     "x":{"field":"x","type":"quantitative","scale":{"domain":[-14.07,10.87],"range":[-33,256],"nice":false,"zero":false},"axis":null},
     "y":{"field":"y","type":"quantitative","scale":{"domain":[0,10.73],"nice":false,"zero":false},"axis":null}}},
   {"data":{"name":"b1"},"mark":{"type":"rect","filled":false,"color":"#000","strokeWidth":1},
    "encoding":{
     "x":{"field":"x1","type":"quantitative","scale":{"domain":[-14.07,10.87],"range":[-33,256],"nice":false,"zero":false},"axis":null},
     "x2":{"field":"x2"},
     "y":{"field":"y1","type":"quantitative","scale":{"domain":[0,10.73],"nice":false,"zero":false},"axis":null},
     "y2":{"field":"y2"}}}
  ],
  "resolve":{"axis":{"x":"independent","y":"independent"}}},
 {"width":288,"height":146,
  "view":{"stroke":null},
  "layer":[
   {"data":{"name":"l2"},"mark":{"type":"line","color":"#aaaaaa","strokeWidth":0.8,"strokeDash":[2,2]},
    "encoding":{
     "x":{"field":"x","type":"quantitative","scale":{"domain":[-14.07,10.87],"nice":false,"zero":false},"axis":{"orient":"top","values":[-10,-5,0,5,10],"tickSize":18,"offset":-9.7,"labels":false,"title":null}},
     "y":{"field":"y","type":"quantitative","scale":{"domain":[-4.31,8.2],"nice":false,"zero":false},"axis":{"orient":"right","values":[-4,-2,0,2,4,6,8],"tickSize":8,"labels":false,"title":null}},
     "detail":{"field":"i"}}},
   {"data":{"name":"c2"},"mark":{"type":"circle","color":"#999999","size":27,"opacity":1},
    "encoding":{
     "x":{"field":"x","type":"quantitative","scale":{"domain":[-14.07,10.87],"nice":false,"zero":false},"axis":{"orient":"bottom","values":[-10,-5,0,5,10],"tickSize":0,"labelPadding":13,"title":"PPRED","titlePadding":12}},
     "y":{"field":"y","type":"quantitative","scale":{"domain":[-4.31,8.2],"nice":false,"zero":false},"axis":{"orient":"left","values":[-4,-2,0,2,4,6,8],"labelExpr":"datum.value == 8 ? '' : datum.label","tickSize":7,"labelPadding":3,"title":"CWRES","titlePadding":29}}}},
   {"data":{"name":"l2"},"mark":{"type":"circle","color":"#999999","size":24,"opacity":1},
    "encoding":{
     "x":{"field":"x","type":"quantitative","scale":{"domain":[-14.07,10.87],"nice":false,"zero":false},"axis":null},
     "y":{"field":"y","type":"quantitative","scale":{"domain":[-4.31,8.2],"nice":false,"zero":false},"axis":null}}},
   {"data":{"name":"r2"},"transform":[{"filter":"datum.k=='z'"}],"mark":{"type":"line","color":"#777777","strokeWidth":1.3},
    "encoding":{
     "x":{"field":"x","type":"quantitative","scale":{"domain":[-14.07,10.87],"nice":false,"zero":false},"axis":null},
     "y":{"field":"y","type":"quantitative","scale":{"domain":[-4.31,8.2],"nice":false,"zero":false},"axis":null}}},
   {"data":{"name":"r2"},"transform":[{"filter":"datum.k=='u' || datum.k=='d'"}],"mark":{"type":"line","color":"#000","strokeWidth":0.8,"strokeDash":[1,2]},
    "encoding":{
     "x":{"field":"x","type":"quantitative","scale":{"domain":[-14.07,10.87],"nice":false,"zero":false},"axis":null},
     "y":{"field":"y","type":"quantitative","scale":{"domain":[-4.31,8.2],"nice":false,"zero":false},"axis":null},
     "detail":{"field":"k"}}},
   {"data":{"name":"r2"},"transform":[{"filter":"datum.k=='lo'"}],"mark":{"type":"line","color":"#000","strokeWidth":2,"strokeDash":[7,4]},
    "encoding":{
     "x":{"field":"x","type":"quantitative","scale":{"domain":[-14.07,10.87],"nice":false,"zero":false},"axis":null},
     "y":{"field":"y","type":"quantitative","scale":{"domain":[-4.31,8.2],"nice":false,"zero":false},"axis":null}}},
   {"data":{"name":"b2"},"mark":{"type":"rect","filled":false,"color":"#000","strokeWidth":1},
    "encoding":{
     "x":{"field":"x1","type":"quantitative","scale":{"domain":[-14.07,10.87],"nice":false,"zero":false},"axis":null},
     "x2":{"field":"x2"},
     "y":{"field":"y1","type":"quantitative","scale":{"domain":[-4.31,8.2],"nice":false,"zero":false},"axis":null},
     "y2":{"field":"y2"}}}
  ],
  "resolve":{"axis":{"x":"independent","y":"independent"}}}
],"spacing":-3},
{"columns":1,"spacing":21.5,"concat":[
{"hconcat":[
 {"width":253,"height":133,
  "title":{"text":"Growth control","anchor":"middle","frame":"group","dx":-30,"offset":5,"baseline":"alphabetic"},
  "layer":[
   {"data":{"name":"v"},"transform":[{"filter":"datum.p=='gc'"}],"mark":{"type":"circle","color":"#000","size":35,"opacity":1},
    "encoding":{
     "x":{"field":"t","type":"quantitative","scale":{"domain":[-1.15,25.17],"nice":false,"zero":false},"axis":{"orient":"bottom","values":[0,5,10,15,20,25],"tickSize":7,"labelPadding":8,"title":"Time (h)","titlePadding":10}},
     "y":{"field":"v","type":"quantitative","scale":{"type":"log","domain":[100,100000],"nice":false},"axis":{"orient":"left","values":[100,200,300,400,500,600,700,800,900,1000,2000,3000,4000,5000,6000,7000,8000,9000,10000,20000,30000,40000,50000,60000,70000,80000,90000,100000],"labelExpr":"abs(log(datum.value)/LN10 - round(log(datum.value)/LN10)) < 1e-6 ? (datum.value >= 100000 ? '1e+0' + round(log(datum.value)/LN10) : datum.value < 1 ? '0.1' : '' + round(datum.value)) : ''","tickSize":{"condition":{"test":"abs(log(datum.value)/LN10 - round(log(datum.value)/LN10)) < 1e-6","value":12},"value":6},"labelPadding":5,"title":"cfu","titlePadding":12}}}},
   {"data":{"name":"q"},"transform":[{"filter":"datum.p=='gc' && datum.s=='m'"}],"mark":{"type":"line","color":"#000","strokeWidth":2},
    "encoding":{
     "x":{"field":"t","type":"quantitative","scale":{"domain":[-1.15,25.17],"nice":false,"zero":false},"axis":{"orient":"top","values":[0,5,10,15,20,25],"tickSize":8,"labels":false,"title":null}},
     "y":{"field":"v","type":"quantitative","scale":{"type":"log","domain":[100,100000],"nice":false},"axis":{"orient":"right","values":[100,200,300,400,500,600,700,800,900,1000,2000,3000,4000,5000,6000,7000,8000,9000,10000,20000,30000,40000,50000,60000,70000,80000,90000,100000],"labels":false,"tickSize":{"condition":{"test":"abs(log(datum.value)/LN10 - round(log(datum.value)/LN10)) < 1e-6","value":12},"value":6},"title":null}}}},
   {"data":{"name":"q"},"transform":[{"filter":"datum.p=='gc' && datum.s!='m'"}],"mark":{"type":"line","color":"#000","strokeWidth":2,"strokeDash":[9,5]},
    "encoding":{
     "x":{"field":"t","type":"quantitative","scale":{"domain":[-1.15,25.17],"nice":false,"zero":false},"axis":null},
     "y":{"field":"v","type":"quantitative","scale":{"type":"log","domain":[100,100000],"nice":false},"axis":null},
     "detail":{"field":"s"}}}
  ],
  "resolve":{"axis":{"x":"independent","y":"independent"}}},
 {"width":252,"height":133,
  "title":{"text":"Colistin","anchor":"middle","frame":"group","dx":-30,"offset":5,"baseline":"alphabetic"},
  "layer":[
   {"data":{"name":"v"},"transform":[{"filter":"datum.p=='co'"}],"mark":{"type":"circle","color":"#000","size":35,"opacity":1},
    "encoding":{
     "x":{"field":"t","type":"quantitative","scale":{"domain":[-1.05,25.5],"nice":false,"zero":false},"axis":{"orient":"bottom","values":[0,5,10,15,20,25],"tickSize":7,"labelPadding":8,"title":"Time (h)","titlePadding":10}},
     "y":{"field":"v","type":"quantitative","scale":{"type":"log","domain":[0.1,1000000],"nice":false},"axis":{"orient":"left","values":[0.1,0.2,0.3,0.4,0.5,0.6,0.7,0.8,0.9,1,2,3,4,5,6,7,8,9,10,20,30,40,50,60,70,80,90,100,200,300,400,500,600,700,800,900,1000,2000,3000,4000,5000,6000,7000,8000,9000,10000,20000,30000,40000,50000,60000,70000,80000,90000,100000,200000,300000,400000,500000,600000,700000,800000,900000,1000000],"labelExpr":"abs(log(datum.value)/LN10 - round(log(datum.value)/LN10)) < 1e-6 ? (datum.value >= 100000 ? '1e+0' + round(log(datum.value)/LN10) : datum.value < 1 ? '0.1' : '' + round(datum.value)) : ''","tickSize":{"condition":{"test":"abs(log(datum.value)/LN10 - round(log(datum.value)/LN10)) < 1e-6","value":12},"value":6},"labelPadding":5,"title":"cfu","titlePadding":12}}}},
   {"data":{"name":"q"},"transform":[{"filter":"datum.p=='co' && datum.s=='m'"}],"mark":{"type":"line","color":"#000","strokeWidth":2},
    "encoding":{
     "x":{"field":"t","type":"quantitative","scale":{"domain":[-1.05,25.5],"nice":false,"zero":false},"axis":{"orient":"top","values":[0,5,10,15,20,25],"tickSize":8,"labels":false,"title":null}},
     "y":{"field":"v","type":"quantitative","scale":{"type":"log","domain":[0.1,1000000],"nice":false},"axis":{"orient":"right","values":[0.1,0.2,0.3,0.4,0.5,0.6,0.7,0.8,0.9,1,2,3,4,5,6,7,8,9,10,20,30,40,50,60,70,80,90,100,200,300,400,500,600,700,800,900,1000,2000,3000,4000,5000,6000,7000,8000,9000,10000,20000,30000,40000,50000,60000,70000,80000,90000,100000,200000,300000,400000,500000,600000,700000,800000,900000,1000000],"labels":false,"tickSize":{"condition":{"test":"abs(log(datum.value)/LN10 - round(log(datum.value)/LN10)) < 1e-6","value":12},"value":6},"title":null}}}},
   {"data":{"name":"q"},"transform":[{"filter":"datum.p=='co' && datum.s!='m'"}],"mark":{"type":"line","color":"#000","strokeWidth":2,"strokeDash":[9,5]},
    "encoding":{
     "x":{"field":"t","type":"quantitative","scale":{"domain":[-1.05,25.5],"nice":false,"zero":false},"axis":null},
     "y":{"field":"v","type":"quantitative","scale":{"type":"log","domain":[0.1,1000000],"nice":false},"axis":null},
     "detail":{"field":"s"}}}
  ],
  "resolve":{"axis":{"x":"independent","y":"independent"}}}
],"spacing":31},
{"hconcat":[
 {"width":253,"height":133,
  "title":{"text":"Fusidic acid","anchor":"middle","frame":"group","dx":-30,"offset":5,"baseline":"alphabetic"},
  "layer":[
   {"data":{"name":"v"},"transform":[{"filter":"datum.p=='fa'"}],"mark":{"type":"circle","color":"#000","size":35,"opacity":1},
    "encoding":{
     "x":{"field":"t","type":"quantitative","scale":{"domain":[-1.15,25.17],"nice":false,"zero":false},"axis":{"orient":"bottom","values":[0,5,10,15,20,25],"tickSize":7,"labelPadding":8,"title":"Time (h)","titlePadding":10}},
     "y":{"field":"v","type":"quantitative","scale":{"type":"log","domain":[0.1,1000000],"nice":false},"axis":{"orient":"left","values":[0.1,0.2,0.3,0.4,0.5,0.6,0.7,0.8,0.9,1,2,3,4,5,6,7,8,9,10,20,30,40,50,60,70,80,90,100,200,300,400,500,600,700,800,900,1000,2000,3000,4000,5000,6000,7000,8000,9000,10000,20000,30000,40000,50000,60000,70000,80000,90000,100000,200000,300000,400000,500000,600000,700000,800000,900000,1000000],"labelExpr":"abs(log(datum.value)/LN10 - round(log(datum.value)/LN10)) < 1e-6 ? (datum.value >= 100000 ? '1e+0' + round(log(datum.value)/LN10) : datum.value < 1 ? '0.1' : '' + round(datum.value)) : ''","tickSize":{"condition":{"test":"abs(log(datum.value)/LN10 - round(log(datum.value)/LN10)) < 1e-6","value":12},"value":6},"labelPadding":5,"title":"cfu","titlePadding":12}}}},
   {"data":{"name":"q"},"transform":[{"filter":"datum.p=='fa' && datum.s=='m'"}],"mark":{"type":"line","color":"#000","strokeWidth":2},
    "encoding":{
     "x":{"field":"t","type":"quantitative","scale":{"domain":[-1.15,25.17],"nice":false,"zero":false},"axis":{"orient":"top","values":[0,5,10,15,20,25],"tickSize":8,"labels":false,"title":null}},
     "y":{"field":"v","type":"quantitative","scale":{"type":"log","domain":[0.1,1000000],"nice":false},"axis":{"orient":"right","values":[0.1,0.2,0.3,0.4,0.5,0.6,0.7,0.8,0.9,1,2,3,4,5,6,7,8,9,10,20,30,40,50,60,70,80,90,100,200,300,400,500,600,700,800,900,1000,2000,3000,4000,5000,6000,7000,8000,9000,10000,20000,30000,40000,50000,60000,70000,80000,90000,100000,200000,300000,400000,500000,600000,700000,800000,900000,1000000],"labels":false,"tickSize":{"condition":{"test":"abs(log(datum.value)/LN10 - round(log(datum.value)/LN10)) < 1e-6","value":12},"value":6},"title":null}}}},
   {"data":{"name":"q"},"transform":[{"filter":"datum.p=='fa' && datum.s!='m'"}],"mark":{"type":"line","color":"#000","strokeWidth":2,"strokeDash":[9,5]},
    "encoding":{
     "x":{"field":"t","type":"quantitative","scale":{"domain":[-1.15,25.17],"nice":false,"zero":false},"axis":null},
     "y":{"field":"v","type":"quantitative","scale":{"type":"log","domain":[0.1,1000000],"nice":false},"axis":null},
     "detail":{"field":"s"}}}
  ],
  "resolve":{"axis":{"x":"independent","y":"independent"}}},
 {"width":252,"height":133,
  "title":{"text":"Colistin and fusidic acid","anchor":"middle","frame":"group","dx":-30,"offset":5,"baseline":"alphabetic"},
  "layer":[
   {"data":{"name":"v"},"transform":[{"filter":"datum.p=='cf'"}],"mark":{"type":"circle","color":"#000","size":35,"opacity":1},
    "encoding":{
     "x":{"field":"t","type":"quantitative","scale":{"domain":[-1.05,25.5],"nice":false,"zero":false},"axis":{"orient":"bottom","values":[0,5,10,15,20,25],"tickSize":7,"labelPadding":8,"title":"Time (h)","titlePadding":10}},
     "y":{"field":"v","type":"quantitative","scale":{"type":"log","domain":[0.1,1000000],"nice":false},"axis":{"orient":"left","values":[0.1,0.2,0.3,0.4,0.5,0.6,0.7,0.8,0.9,1,2,3,4,5,6,7,8,9,10,20,30,40,50,60,70,80,90,100,200,300,400,500,600,700,800,900,1000,2000,3000,4000,5000,6000,7000,8000,9000,10000,20000,30000,40000,50000,60000,70000,80000,90000,100000,200000,300000,400000,500000,600000,700000,800000,900000,1000000],"labelExpr":"abs(log(datum.value)/LN10 - round(log(datum.value)/LN10)) < 1e-6 ? (datum.value >= 100000 ? '1e+0' + round(log(datum.value)/LN10) : datum.value < 1 ? '0.1' : '' + round(datum.value)) : ''","tickSize":{"condition":{"test":"abs(log(datum.value)/LN10 - round(log(datum.value)/LN10)) < 1e-6","value":12},"value":6},"labelPadding":5,"title":"cfu","titlePadding":12}}}},
   {"data":{"name":"q"},"transform":[{"filter":"datum.p=='cf' && datum.s=='m'"}],"mark":{"type":"line","color":"#000","strokeWidth":2},
    "encoding":{
     "x":{"field":"t","type":"quantitative","scale":{"domain":[-1.05,25.5],"nice":false,"zero":false},"axis":{"orient":"top","values":[0,5,10,15,20,25],"tickSize":8,"labels":false,"title":null}},
     "y":{"field":"v","type":"quantitative","scale":{"type":"log","domain":[0.1,1000000],"nice":false},"axis":{"orient":"right","values":[0.1,0.2,0.3,0.4,0.5,0.6,0.7,0.8,0.9,1,2,3,4,5,6,7,8,9,10,20,30,40,50,60,70,80,90,100,200,300,400,500,600,700,800,900,1000,2000,3000,4000,5000,6000,7000,8000,9000,10000,20000,30000,40000,50000,60000,70000,80000,90000,100000,200000,300000,400000,500000,600000,700000,800000,900000,1000000],"labels":false,"tickSize":{"condition":{"test":"abs(log(datum.value)/LN10 - round(log(datum.value)/LN10)) < 1e-6","value":12},"value":6},"title":null}}}},
   {"data":{"name":"q"},"transform":[{"filter":"datum.p=='cf' && datum.s!='m'"}],"mark":{"type":"line","color":"#000","strokeWidth":2,"strokeDash":[9,5]},
    "encoding":{
     "x":{"field":"t","type":"quantitative","scale":{"domain":[-1.05,25.5],"nice":false,"zero":false},"axis":null},
     "y":{"field":"v","type":"quantitative","scale":{"type":"log","domain":[0.1,1000000],"nice":false},"axis":null},
     "detail":{"field":"s"}}}
  ],
  "resolve":{"axis":{"x":"independent","y":"independent"}}}
],"spacing":31}
]}
]
}
